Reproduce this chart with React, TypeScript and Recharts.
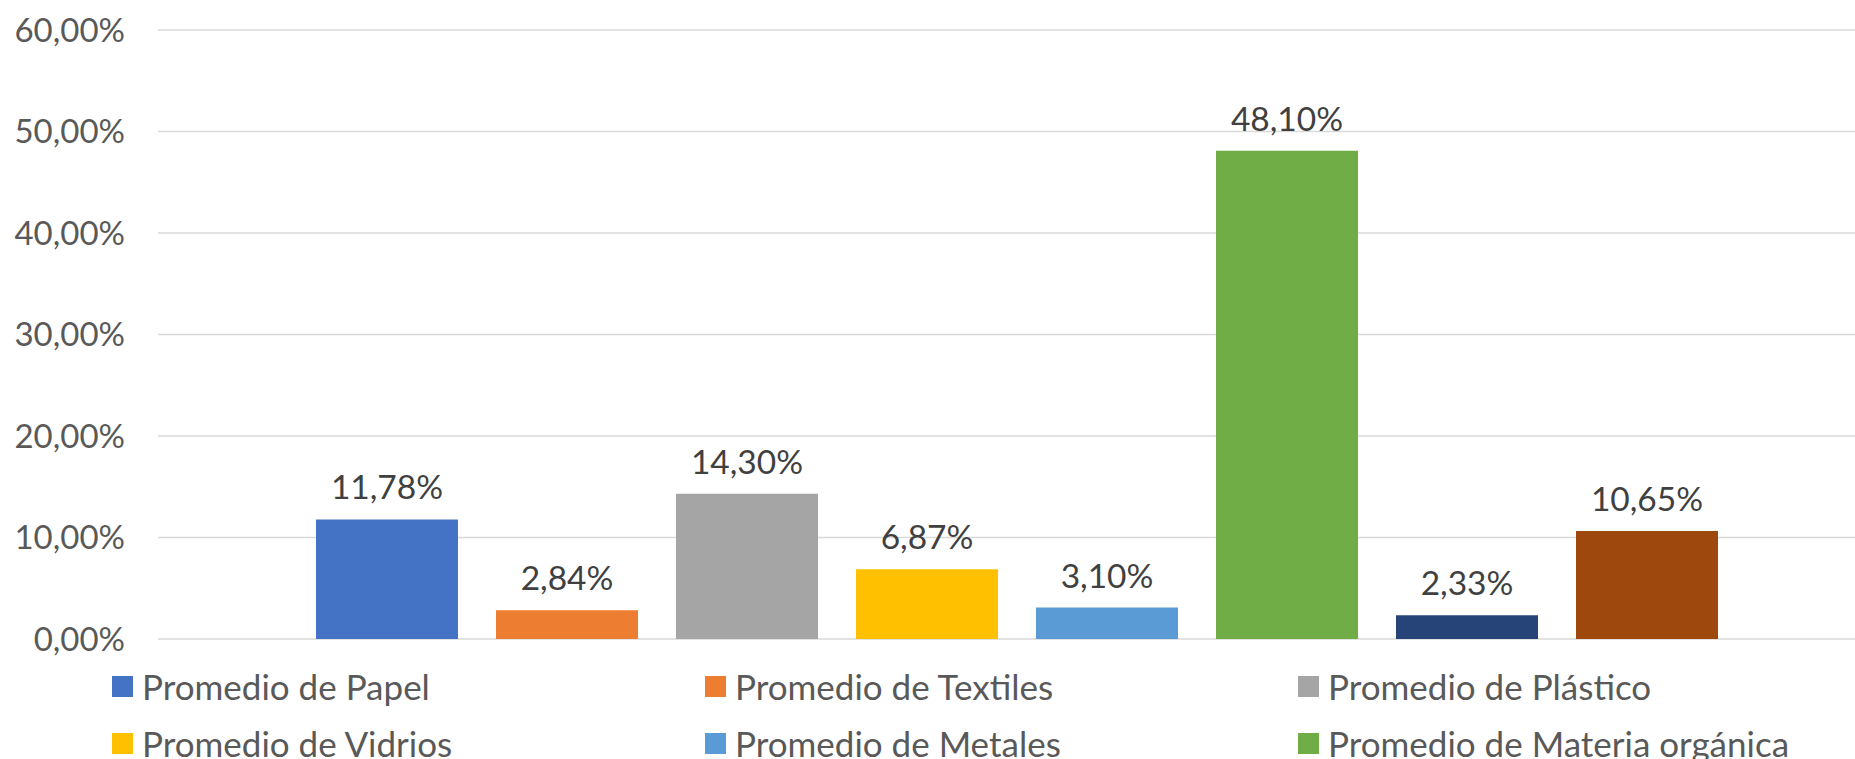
import React from 'react';
import { BarChart, Bar, XAxis, YAxis, CartesianGrid, Legend, LabelList } from 'recharts';

const categories = ['Total'];
const seriesNames = [
  'Promedio de Papel',
  'Promedio de Textiles',
  'Promedio de Plástico',
  'Promedio de Vidrios',
  'Promedio de Metales',
  'Promedio de Materia orgánica',
  'Promedio de Cartón',
  'Promedio de Otros',
];
const seriesValues = [11.78, 2.84, 14.3, 6.87, 3.1, 48.1, 2.33, 10.65];
const seriesColors = ['#4472C4', '#ED7D31', '#A5A5A5', '#FFC000', '#5B9BD5', '#70AD47', '#264478', '#9E480E'];
const yTicks = [0, 10, 20, 30, 40, 50, 60];

const data = categories.map((name) => {
  const row: Record<string, string | number> = { name };
  seriesValues.forEach((v, i) => {
    row['s' + i] = v;
  });
  return row;
});

const FONT = 'Lato, "Open Sans", sans-serif';
const fmt = (v: number) => v.toFixed(2).replace('.', ',') + '%';

const LegendContent = (props: any) => {
  const payload = [...(props.payload || [])].sort(
    (a: any, b: any) => seriesNames.indexOf(a.value) - seriesNames.indexOf(b.value)
  );
  return (
    <div style={{ position: 'relative', width: 1855, height: 170 }}>
      {payload.map((p: any, i: number) => (
        <div
          key={i}
          style={{
            position: 'absolute',
            left: 112 + (i % 3) * 593,
            top: 47 + Math.floor(i / 3) * 57 - 20,
            height: 40,
            display: 'flex',
            alignItems: 'center',
            whiteSpace: 'nowrap',
            fontFamily: FONT,
            fontSize: 35,
            color: '#595959',
          }}
        >
          <span style={{ display: 'inline-block', width: 21, height: 21, background: p.color, marginRight: 9 }} />
          <span>{p.value}</span>
        </div>
      ))}
    </div>
  );
};

export default function App() {
  return (
    <div style={{ position: 'fixed', left: 0, top: 0, width: 1855, height: 759, overflow: 'hidden', background: '#fff' }}>
      <BarChart
        width={1880}
        height={809}
        data={data}
        margin={{ top: 30, right: 2, bottom: 0, left: 0 }}
        barCategoryGap={158}
        barGap={38}
      >
        <CartesianGrid vertical={false} stroke="#d9d9d9" strokeWidth={1.5} />
        <XAxis dataKey="name" hide />
        <YAxis
          domain={[0, 60]}
          ticks={yTicks}
          width={158}
          axisLine={false}
          tickLine={false}
          tickSize={0}
          tickMargin={33}
          tickFormatter={(v: number) => fmt(v)}
          tick={{ fill: '#595959', fontSize: 33, fontFamily: FONT }}
        />
        <Legend
          verticalAlign="bottom"
          itemSorter={null as any}
          content={<LegendContent />}
          wrapperStyle={{ left: 0, width: 1855, height: 170 }}
        />
        {seriesNames.map((n, i) => (
          <Bar key={n} dataKey={'s' + i} name={n} fill={seriesColors[i]} isAnimationActive={false}>
            <LabelList
              dataKey={'s' + i}
              position="top"
              offset={20}
              formatter={(v: any) => fmt(Number(v))}
              style={{ fill: '#404040', fontSize: 33.5, fontFamily: FONT }}
            />
          </Bar>
        ))}
      </BarChart>
    </div>
  );
}
